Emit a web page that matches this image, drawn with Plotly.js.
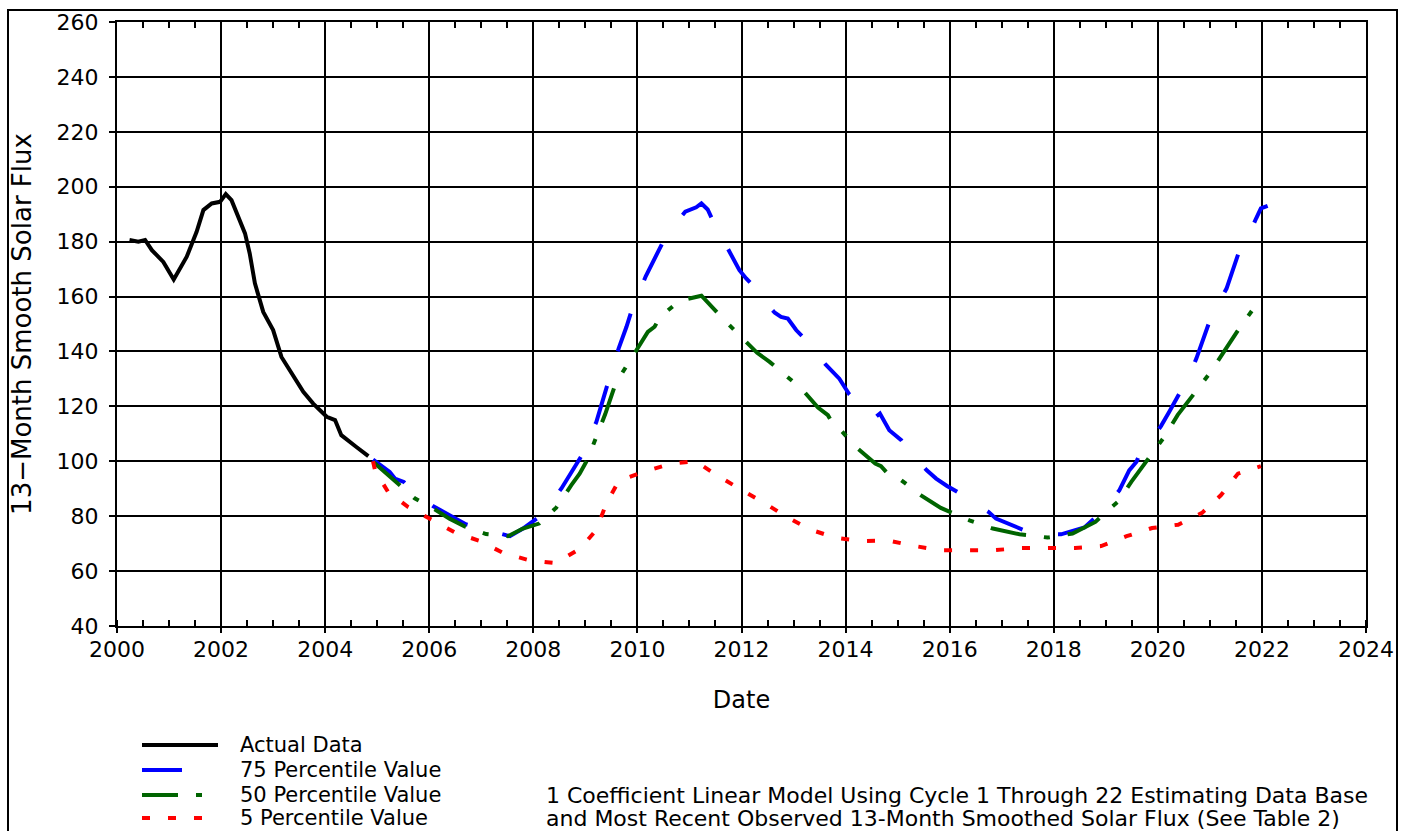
<!DOCTYPE html>
<html>
<head>
<meta charset="utf-8">
<script src="https://cdn.plot.ly/plotly-3.0.1.min.js"></script>
<style>html,body{margin:0;padding:0;background:#fff;}#chart{width:1413px;height:831px;}</style>
</head>
<body>
<div id="chart"></div>
<script>
// ---------------- DATA ----------------
const actualYear = [2000.24,2000.41,2000.54,2000.67,2000.89,2001.09,2001.34,2001.53,2001.66,2001.82,2001.98,2002.09,2002.20,2002.30,2002.46,2002.55,2002.65,2002.81,2003.00,2003.16,2003.35,2003.58,2003.77,2004.03,2004.19,2004.31,2004.60,2004.83];
const actualFlux = [180.6,180.0,180.6,176.9,172.6,166.2,174.5,183.6,191.5,193.9,194.5,197.3,195.1,190.3,183.0,175.7,164.8,154.4,147.8,138.0,132.0,125.3,121.0,116.2,115.0,109.5,105.2,101.9];

const p75Year = [2004.92,2005.24,2005.34,2005.51,2005.75,2006.07,2006.33,2006.71,2007.00,2007.25,2007.43,2007.55,2007.80,2008.09,2008.30,2008.54,2008.92,2009.21,2009.43,2009.64,2009.79,2009.88,2010.00,2010.16,2010.50,2010.75,2010.92,2011.13,2011.23,2011.35,2011.46,2011.62,2011.80,2011.96,2012.09,2012.20,2012.40,2012.64,2012.76,2012.89,2013.05,2013.21,2013.40,2013.61,2013.88,2014.07,2014.30,2014.57,2014.66,2014.84,2015.07,2015.30,2015.56,2015.74,2015.95,2016.15,2016.45,2016.75,2016.89,2017.15,2017.43,2017.80,2018.14,2018.30,2018.59,2018.81,2019.00,2019.26,2019.45,2019.59,2019.64,2019.85,2020.06,2020.22,2020.44,2020.60,2020.74,2020.99,2021.15,2021.32,2021.56,2021.75,2021.89,2021.98,2022.11];
const p75Flux = [100.6,96.1,93.7,92.5,88.0,83.7,81.0,77.0,75.5,74.2,73.4,72.7,75.5,79.5,84.0,90.1,101.8,114.3,128.3,141.1,149.0,154.4,160.0,167.4,180.2,187.0,190.9,192.5,193.9,191.7,187.2,181.5,175.7,169.6,166.6,164.4,159.0,154.1,152.6,152.0,147.8,144.7,140.0,135.4,130.1,124.4,120.0,116.0,117.4,111.3,107.7,102.0,96.7,93.7,91.0,88.8,85.0,81.5,79.1,77.0,74.9,73.5,73.4,74.3,75.9,79.7,83.5,89.4,96.7,99.8,102.2,107.0,112.8,118.0,125.3,131.0,137.4,150.8,157.0,162.9,176.3,182.5,188.5,192.1,193.0];

const p50Year = [2004.92,2005.11,2005.34,2005.72,2006.11,2006.39,2006.68,2007.09,2007.51,2007.80,2008.11,2008.44,2008.73,2008.89,2009.04,2009.21,2009.38,2009.58,2009.82,2010.07,2010.20,2010.33,2010.43,2010.80,2011.23,2011.64,2011.98,2012.30,2012.54,2012.76,2013.16,2013.47,2013.66,2013.75,2013.88,2014.20,2014.57,2014.68,2014.87,2015.07,2015.45,2015.83,2016.06,2016.38,2016.83,2017.34,2017.56,2017.88,2018.36,2018.80,2019.02,2019.23,2019.49,2019.77,2020.14,2020.38,2020.67,2021.02,2021.29,2021.55,2021.91];
const p50Flux = [99.8,96.7,92.5,86.5,82.4,79.1,76.3,73.5,72.7,75.5,77.3,83.1,91.3,95.5,100.6,108.9,117.1,128.3,135.8,143.5,147.1,149.0,152.4,158.4,160.3,152.0,145.3,139.5,136.2,132.6,126.3,119.6,116.8,113.8,111.9,105.2,99.2,98.2,94.3,93.1,87.6,83.0,81.0,78.5,75.5,73.4,73.0,72.2,73.7,77.9,81.8,85.2,92.5,99.8,109.3,116.8,123.7,132.6,140.5,148.0,157.5];

const p5Year = [2004.92,2004.96,2005.21,2005.59,2006.04,2006.51,2006.97,2007.42,2007.93,2008.43,2008.90,2009.21,2009.40,2009.64,2010.11,2010.62,2011.11,2011.56,2011.99,2012.44,2012.87,2013.31,2013.81,2014.30,2014.81,2015.30,2015.83,2016.33,2016.84,2017.37,2017.88,2018.41,2018.91,2019.40,2019.89,2020.39,2020.85,2021.21,2021.54,2021.98];
const p5Flux = [100.0,96.5,88.8,83.4,78.8,73.9,71.0,66.6,63.9,62.9,68.2,75.0,84.5,92.8,96.1,99.0,100.1,94.5,89.7,84.8,79.7,75.2,72.1,70.9,71.2,69.2,67.6,67.6,67.6,68.4,68.4,68.4,69.1,72.7,75.7,76.9,81.2,87.6,95.5,98.2];

const seriesNames = ['Actual Data','75 Percentile Value','50 Percentile Value','5 Percentile Value'];
const noteLines = ['1 Coefficient Linear Model Using Cycle 1 Through 22 Estimating Data Base',
                   'and Most Recent Observed 13-Month Smoothed Solar Flux (See Table 2)'];
const xTitle = 'Date';
const yTitle = '13\u2212Month Smooth Solar Flux';

// ---------------- STYLE ----------------
const FONT = 'DejaVu Sans, sans-serif';
const colors = ['#000000','#0000ff','#006400','#ff0000'];
const dashes = ['solid','40px,36px','36px,18px,6px,18px','8px,18px'];
const LW = 4;

const W = 1413, H = 831;
const M = {l:117, r:47, t:22, b:205};
const PW = W - M.l - M.r, PH = H - M.t - M.b;
const px = v => (v - M.l) / PW;
const py = v => (H - M.b - v) / PH;

const xs = [actualYear, p75Year, p50Year, p5Year];
const ys = [actualFlux, p75Flux, p50Flux, p5Flux];

const traces = xs.map((x, i) => ({
  type:'scatter', mode:'lines', x:x, y:ys[i], name:seriesNames[i],
  line:{color:colors[i], width:LW, dash:dashes[i]},
  showlegend:false, hoverinfo:'x+y'
}));
// helper trace to host the top axis (minor ticks)
traces.push({type:'scatter', mode:'lines', x:[], y:[], xaxis:'x2', yaxis:'y', showlegend:false, hoverinfo:'skip'});

const shapes = [];
const annotations = [];
// outer frame
shapes.push({type:'rect', xref:'paper', yref:'paper', x0:px(8), x1:px(1397), y0:py(845), y1:py(10),
             line:{color:'black', width:2}, fillcolor:'rgba(0,0,0,0)', layer:'below'});
// legend
const rowY = [745, 770, 795, 818];
seriesNames.forEach((n, i) => {
  shapes.push({type:'line', xref:'paper', yref:'paper', x0:px(142), x1:px(218), y0:py(rowY[i]), y1:py(rowY[i]),
               line:{color:colors[i], width:LW, dash:dashes[i]}});
  annotations.push({xref:'paper', yref:'paper', x:px(239), y:py(rowY[i]), xanchor:'left', yanchor:'middle',
                    text:n, showarrow:false, borderpad:0, font:{family:FONT, size:21, color:'black'}});
});
noteLines.forEach((t, i) => {
  annotations.push({xref:'paper', yref:'paper', x:px(545), y:py(rowY[2+i]), xanchor:'left', yanchor:'middle',
                    text:t, showarrow:false, borderpad:0, font:{family:FONT, size:22, color:'black'}});
});

const layout = {
  width:W, height:H, margin:{l:M.l, r:M.r, t:M.t, b:M.b, pad:0},
  paper_bgcolor:'white', plot_bgcolor:'white',
  font:{family:FONT, size:22, color:'black'},
  showlegend:false,
  xaxis:{range:[2000,2024], tick0:2000, dtick:2, showgrid:true, gridcolor:'black', gridwidth:2,
         showline:true, linecolor:'black', linewidth:2, mirror:true, zeroline:false,
         ticks:'outside', ticklen:5, tickwidth:2, tickcolor:'black', ticklabelstandoff:-2,
         tickfont:{family:FONT, size:22, color:'black'},
         minor:{dtick:0.5, ticks:'inside', ticklen:6, tickwidth:2, tickcolor:'black', showgrid:false},
         title:{text:xTitle, font:{family:FONT, size:24, color:'black'}, standoff:30}},
  xaxis2:{range:[2000,2024], overlaying:'x', side:'top', tick0:2000, dtick:2, showgrid:false, showline:false,
          zeroline:false, ticks:'', showticklabels:false,
          minor:{dtick:0.5, ticks:'inside', ticklen:6, tickwidth:2, tickcolor:'black', showgrid:false}},
  yaxis:{range:[40,260], tick0:40, dtick:20, showgrid:true, gridcolor:'black', gridwidth:2,
         showline:true, linecolor:'black', linewidth:2, mirror:true, zeroline:false,
         ticks:'outside', ticklen:6, tickwidth:2, tickcolor:'black', ticklabelstandoff:6,
         tickfont:{family:FONT, size:22, color:'black'},
         title:{text:yTitle, font:{family:FONT, size:26, color:'black'}, standoff:17}},
  shapes:shapes, annotations:annotations
};

Plotly.newPlot('chart', traces, layout, {displayModeBar:false, staticPlot:true});
</script>
</body>
</html>
